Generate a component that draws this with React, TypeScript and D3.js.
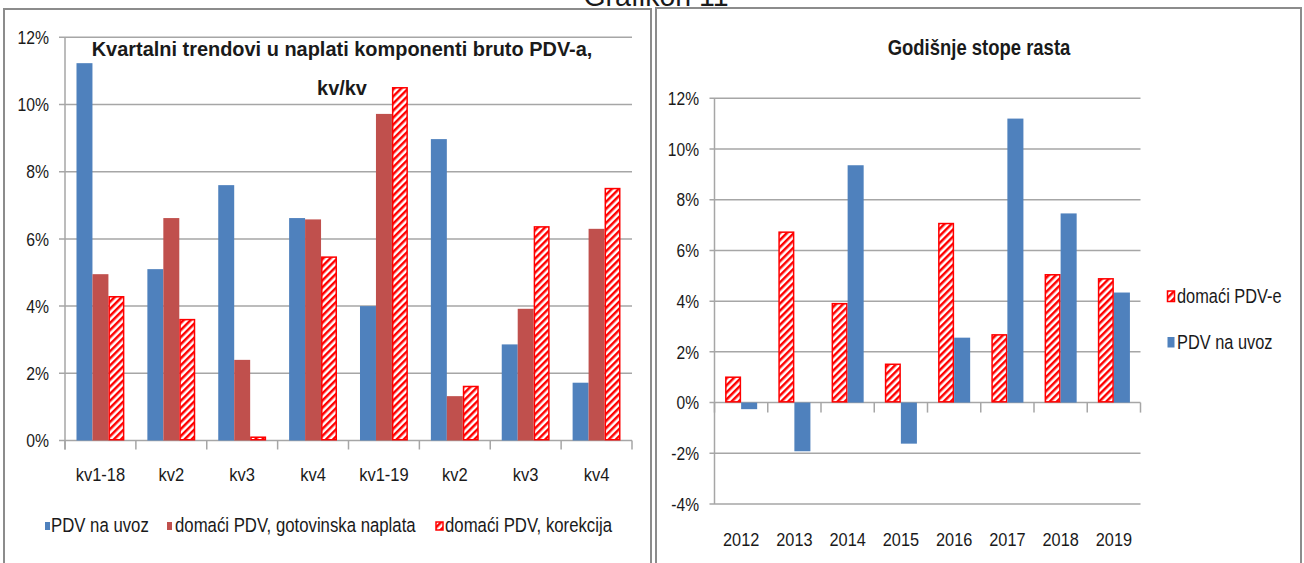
import { useEffect, useRef } from "react";
import * as d3 from "d3";

const WIDTH = 1304;
const HEIGHT = 563;
const FONT = "'Liberation Sans', Arial, sans-serif";

const BLUE = "#4f81bd";
const RED = "#c0504d";
const HATCH_RED = "#ff0000";
const GRID = "#a6a6a6";
const TEXT = "#1a1a1a";

// lijevi grafikon: kvartalne stope
const quarters = ["kv1-18", "kv2", "kv3", "kv4", "kv1-19", "kv2", "kv3", "kv4"];
const uvozQ = [11.23, 5.1, 7.6, 6.62, 4.0, 8.97, 2.86, 1.72];
const gotovinskaQ = [4.95, 6.62, 2.4, 6.58, 9.72, 1.32, 3.92, 6.3];
const korekcijaQ = [4.3, 3.62, 0.12, 5.48, 10.52, 1.63, 6.38, 7.52];
const leftTicks = [0, 2, 4, 6, 8, 10, 12];
const leftTitle = ["Kvartalni trendovi u naplati komponenti bruto PDV-a,", "kv/kv"];
const leftLegend = ["PDV na uvoz", "domaći PDV, gotovinska naplata", "domaći PDV, korekcija"];

// desni grafikon: godišnje stope
const years = ["2012", "2013", "2014", "2015", "2016", "2017", "2018", "2019"];
const domaciY = [1.03, 6.75, 3.93, 1.54, 7.09, 2.7, 5.07, 4.91];
const uvozY = [-0.26, -1.92, 9.36, -1.62, 2.56, 11.2, 7.46, 4.34];
const rightTicks = [-4, -2, 0, 2, 4, 6, 8, 10, 12];
const rightTitle = "Godišnje stope rasta";
const rightLegend = ["domaći PDV-e", "PDV na uvoz"];

const pageTitle = "Grafikon 11";

// suženi tekst (nema uskog fonta, pa se skalira po x)
const narrow = (x: number, y: number, sx: number) => `translate(${x},${y}) scale(${sx},1)`;

export default function App() {
  const svgRef = useRef<SVGSVGElement>(null);

  useEffect(() => {
    const svg = d3.select(svgRef.current);
    svg.selectAll("*").remove();

    const defs = svg.append("defs");
    const pattern = defs
      .append("pattern")
      .attr("id", "hatch")
      .attr("patternUnits", "userSpaceOnUse")
      .attr("width", 5)
      .attr("height", 5)
      .attr("patternTransform", "rotate(45)");
    pattern.append("rect").attr("width", 5).attr("height", 5).attr("fill", "#fff");
    pattern
      .append("line")
      .attr("x1", 1.25)
      .attr("y1", 0)
      .attr("x2", 1.25)
      .attr("y2", 5)
      .attr("stroke", HATCH_RED)
      .attr("stroke-width", 2.5);

    svg.append("rect").attr("width", WIDTH).attr("height", HEIGHT).attr("fill", "#fff");

    // naslov stranice (odsječen gore)
    svg
      .append("text")
      .attr("transform", narrow(656, 6, 0.95))
      .attr("text-anchor", "middle")
      .style("font-family", FONT)
      .style("font-size", "30px")
      .attr("fill", TEXT)
      .text(pageTitle);

    // okviri
    svg
      .append("rect")
      .attr("x", 4)
      .attr("y", 9)
      .attr("width", 647)
      .attr("height", 570)
      .attr("fill", "none")
      .attr("stroke", "#8c8c8c")
      .attr("stroke-width", 2);
    svg
      .append("rect")
      .attr("x", 656)
      .attr("y", 8)
      .attr("width", 645)
      .attr("height", 570)
      .attr("fill", "none")
      .attr("stroke", "#8c8c8c")
      .attr("stroke-width", 2);

    const barY = (y: d3.ScaleLinear<number, number>, v: number) => Math.min(y(v), y(0));
    const barH = (y: d3.ScaleLinear<number, number>, v: number) => Math.abs(y(v) - y(0));

    // ---------- lijevi grafikon ----------
    const L = { left: 65, right: 632, top: 37.3, bottom: 440.5 };
    const xL = d3
      .scaleBand<number>()
      .domain(d3.range(quarters.length))
      .range([L.left, L.right]);
    const xLInner = d3
      .scaleBand<string>()
      .domain(["uvoz", "gotovinska", "korekcija"])
      .range([0, xL.bandwidth()])
      .paddingOuter(0.72);
    const yL = d3.scaleLinear().domain([0, 12]).range([L.bottom, L.top]);

    const gl = svg.append("g");

    gl.selectAll(".gridL")
      .data(leftTicks)
      .join("line")
      .attr("x1", L.left - 6)
      .attr("x2", L.right)
      .attr("y1", (d) => yL(d))
      .attr("y2", (d) => yL(d))
      .attr("stroke", GRID)
      .attr("stroke-width", 1.5);

    gl.append("line")
      .attr("x1", L.left)
      .attr("x2", L.left)
      .attr("y1", L.top)
      .attr("y2", L.bottom + 9)
      .attr("stroke", GRID)
      .attr("stroke-width", 1.5);

    gl.selectAll(".tickL")
      .data(d3.range(quarters.length + 1))
      .join("line")
      .attr("x1", (i) => L.left + i * xL.step())
      .attr("x2", (i) => L.left + i * xL.step())
      .attr("y1", yL(0))
      .attr("y2", yL(0) + 9)
      .attr("stroke", GRID)
      .attr("stroke-width", 1.5);

    gl.selectAll(".ylabL")
      .data(leftTicks)
      .join("text")
      .attr("transform", (d) => narrow(49, yL(d), 0.83))
      .attr("dy", "0.35em")
      .attr("text-anchor", "end")
      .style("font-family", FONT)
      .style("font-size", "19px")
      .attr("fill", TEXT)
      .text((d) => `${d}%`);

    gl.selectAll(".xlabL")
      .data(quarters)
      .join("text")
      .attr("transform", (d, i) => narrow((xL(i) as number) + xL.bandwidth() / 2, 481, 0.87))
      .attr("text-anchor", "middle")
      .style("font-family", FONT)
      .style("font-size", "19px")
      .attr("fill", TEXT)
      .text((d) => d);

    gl.selectAll(".uvozQ")
      .data(uvozQ)
      .join("rect")
      .attr("x", (d, i) => (xL(i) as number) + (xLInner("uvoz") as number))
      .attr("y", (d) => barY(yL, d))
      .attr("width", xLInner.bandwidth())
      .attr("height", (d) => barH(yL, d))
      .attr("fill", BLUE);

    gl.selectAll(".gotovinskaQ")
      .data(gotovinskaQ)
      .join("rect")
      .attr("x", (d, i) => (xL(i) as number) + (xLInner("gotovinska") as number))
      .attr("y", (d) => barY(yL, d))
      .attr("width", xLInner.bandwidth())
      .attr("height", (d) => barH(yL, d))
      .attr("fill", RED);

    gl.selectAll(".korekcijaQ")
      .data(korekcijaQ)
      .join("rect")
      .attr("x", (d, i) => (xL(i) as number) + (xLInner("korekcija") as number) + 0.75)
      .attr("y", (d) => barY(yL, d) + 0.75)
      .attr("width", xLInner.bandwidth() - 1.5)
      .attr("height", (d) => Math.max(barH(yL, d) - 1.5, 0.5))
      .attr("fill", "url(#hatch)")
      .attr("stroke", HATCH_RED)
      .attr("stroke-width", 1.5);

    gl.selectAll(".titleL")
      .data(leftTitle)
      .join("text")
      .attr("transform", (d, i) => narrow(342, 56 + i * 39, 0.95))
      .attr("text-anchor", "middle")
      .style("font-family", FONT)
      .style("font-size", "21px")
      .style("font-weight", "bold")
      .attr("fill", TEXT)
      .text((d) => d);

    // legenda lijevo
    const legL = [
      { sq: 45, tx: 51, w: 5, fill: BLUE, stroke: "none" },
      { sq: 167, tx: 175, w: 5, fill: RED, stroke: "none" },
      { sq: 436, tx: 445, w: 7, fill: "url(#hatch)", stroke: HATCH_RED },
    ];
    leftLegend.forEach((label, i) => {
      const s = legL[i];
      gl.append("rect")
        .attr("x", s.sq)
        .attr("y", 522)
        .attr("width", s.w)
        .attr("height", 8)
        .attr("fill", s.fill)
        .attr("stroke", s.stroke)
        .attr("stroke-width", 1.5);
      gl.append("text")
        .attr("transform", narrow(s.tx, 532, 0.86))
        .style("font-family", FONT)
        .style("font-size", "19.5px")
        .attr("fill", TEXT)
        .text(label);
    });

    // ---------- desni grafikon ----------
    const R = { left: 714.5, right: 1140.5, top: 98.3, bottom: 504 };
    const xR = d3.scaleBand<string>().domain(years).range([R.left, R.right]);
    const xRInner = d3
      .scaleBand<string>()
      .domain(["domaci", "uvoz"])
      .range([0, xR.bandwidth()])
      .paddingOuter(0.66);
    const yR = d3.scaleLinear().domain([-4, 12]).range([R.bottom, R.top]);

    const gr = svg.append("g");

    gr.selectAll(".gridR")
      .data(rightTicks)
      .join("line")
      .attr("x1", R.left - 5)
      .attr("x2", R.right)
      .attr("y1", (d) => yR(d))
      .attr("y2", (d) => yR(d))
      .attr("stroke", GRID)
      .attr("stroke-width", 1.5);

    gr.append("line")
      .attr("x1", R.left)
      .attr("x2", R.left)
      .attr("y1", R.top)
      .attr("y2", R.bottom)
      .attr("stroke", GRID)
      .attr("stroke-width", 1.5);

    gr.selectAll(".tickR")
      .data(d3.range(years.length + 1))
      .join("line")
      .attr("x1", (i) => R.left + i * xR.step())
      .attr("x2", (i) => R.left + i * xR.step())
      .attr("y1", yR(0))
      .attr("y2", yR(0) + 10)
      .attr("stroke", GRID)
      .attr("stroke-width", 1.5);

    gr.selectAll(".ylabR")
      .data(rightTicks)
      .join("text")
      .attr("transform", (d) => narrow(699, yR(d), 0.82))
      .attr("dy", "0.35em")
      .attr("text-anchor", "end")
      .style("font-family", FONT)
      .style("font-size", "19px")
      .attr("fill", TEXT)
      .text((d) => `${d}%`);

    gr.selectAll(".xlabR")
      .data(years)
      .join("text")
      .attr("transform", (d) => narrow((xR(d) as number) + xR.bandwidth() / 2, 546, 0.86))
      .attr("text-anchor", "middle")
      .style("font-family", FONT)
      .style("font-size", "19px")
      .attr("fill", TEXT)
      .text((d) => d);

    gr.selectAll(".domaciY")
      .data(domaciY)
      .join("rect")
      .attr("x", (d, i) => (xR(years[i]) as number) + (xRInner("domaci") as number) + 0.75)
      .attr("y", (d) => barY(yR, d) + 0.75)
      .attr("width", xRInner.bandwidth() - 1.5)
      .attr("height", (d) => Math.max(barH(yR, d) - 1.5, 0.5))
      .attr("fill", "url(#hatch)")
      .attr("stroke", HATCH_RED)
      .attr("stroke-width", 1.5);

    gr.selectAll(".uvozY")
      .data(uvozY)
      .join("rect")
      .attr("x", (d, i) => (xR(years[i]) as number) + (xRInner("uvoz") as number))
      .attr("y", (d) => barY(yR, d))
      .attr("width", xRInner.bandwidth())
      .attr("height", (d) => barH(yR, d))
      .attr("fill", BLUE);

    gr.append("text")
      .attr("transform", narrow(979, 55, 0.84))
      .attr("text-anchor", "middle")
      .style("font-family", FONT)
      .style("font-size", "22px")
      .style("font-weight", "bold")
      .attr("fill", TEXT)
      .text(rightTitle);

    // legenda desno
    const legR = [
      { y: 291, fill: "url(#hatch)", stroke: HATCH_RED },
      { y: 337, fill: BLUE, stroke: "none" },
    ];
    rightLegend.forEach((label, i) => {
      const s = legR[i];
      gr.append("rect")
        .attr("x", 1167.5)
        .attr("y", s.y)
        .attr("width", 7)
        .attr("height", 10.5)
        .attr("fill", s.fill)
        .attr("stroke", s.stroke)
        .attr("stroke-width", 1.5);
      gr.append("text")
        .attr("transform", narrow(1177, s.y + 12, 0.84))
        .style("font-family", FONT)
        .style("font-size", "19.5px")
        .attr("fill", TEXT)
        .text(label);
    });
  }, []);

  return (
    <svg
      ref={svgRef}
      width={WIDTH}
      height={HEIGHT}
      style={{ position: "absolute", left: 0, top: 0 }}
    ></svg>
  );
}
